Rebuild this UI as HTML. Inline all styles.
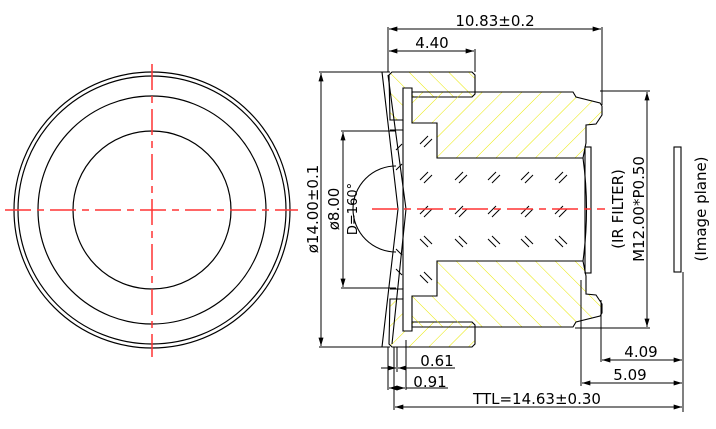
<!DOCTYPE html>
<html><head><meta charset="utf-8"><style>
html,body{margin:0;padding:0;background:#fff;width:716px;height:429px;overflow:hidden}
text{font-family:"DejaVu Sans","Liberation Sans",sans-serif;fill:#000}
</style></head><body>
<svg width="716" height="429" viewBox="0 0 716 429" xmlns="http://www.w3.org/2000/svg">
<defs>
<marker id="a" viewBox="0 0 10 6" refX="10" refY="3" markerWidth="9" markerHeight="5" orient="auto-start-reverse" markerUnits="userSpaceOnUse"><path d="M0,0 L10,3 L0,6 Z" fill="#000"/></marker>
<pattern id="h" width="14" height="14" patternUnits="userSpaceOnUse" patternTransform="rotate(45)"><line x1="0" y1="0" x2="0" y2="14" stroke="#e8e800" stroke-width="1"/></pattern>
<pattern id="h2" width="14" height="14" patternUnits="userSpaceOnUse" patternTransform="rotate(-45)"><line x1="0" y1="0" x2="0" y2="14" stroke="#e8e800" stroke-width="1"/></pattern>
</defs>
<g fill="none" stroke="#000" stroke-width="1.2">
<circle cx="152" cy="210" r="138"/><circle cx="152" cy="210" r="134"/>
<circle cx="152" cy="210" r="114"/><circle cx="152" cy="210" r="79"/>
</g>
<g stroke="#f33" stroke-width="1.5" stroke-dasharray="26,6,7,6">
<line x1="5" y1="210" x2="298" y2="210"/><line x1="152" y1="64" x2="152" y2="357"/>
</g>
<g stroke="#000" stroke-width="1.1">
<g id="top">
<path d="M389,75 L392,72 L472,72 L475,75 L475,94 L472,97 L412,97 L412,88 L403,88 L403,120 L390,120 Z" fill="url(#h2)"/>
<path d="M412,97 L412,92 L573,92 L576,97 L600,103 L602,106 L602,115 L596,124 L586,125 L586,143 L583,158 L437,158 L437,123 L412,123 Z" fill="url(#h)"/>
<path d="M403,120 L403,130 L390,130" fill="none"/>
<g stroke-width="1">
<path d="M420,144 l8,-8 M424,147 l8,-8 M455,180 l8,-8 M459,183 l8,-8 M488,180 l8,-8 M492,183 l8,-8 M521,180 l8,-8 M525,183 l8,-8 M555,180 l8,-8 M559,183 l8,-8 M420,180 l8,-8 M424,183 l8,-8 M396,150 l6,-6 M396,170 l6,-6"/>
</g>
</g>
<use href="#top" transform="translate(0,419) scale(1,-1)"/>
<g stroke-width="1">
<path d="M420,214 l8,-8 M424,217 l8,-8 M455,214 l8,-8 M459,217 l8,-8 M488,214 l8,-8 M492,217 l8,-8 M521,214 l8,-8 M525,217 l8,-8 M555,214 l8,-8 M559,217 l8,-8"/>
</g>
<path d="M403,130 L403,289" fill="none"/>
<path d="M583,158 Q590,209 583,261" fill="none"/>
<path d="M396,166 A43,43 0 0 0 396,252" fill="none"/>
<path d="M382,72 L398,209 L382,347 M388,75 L406,209 L392,344" fill="none"/>
<rect x="585" y="147" width="6" height="126" fill="none"/>
<rect x="674" y="147" width="7" height="125" fill="none"/>
</g>
<line x1="372" y1="209" x2="605" y2="209" stroke="#f33" stroke-width="1.5" stroke-dasharray="26,6,7,6"/>
<g stroke="#000" stroke-width="1" fill="none">
<line x1="388" y1="27" x2="388" y2="72"/><line x1="475" y1="49" x2="475" y2="72"/><line x1="602" y1="27" x2="602" y2="105"/>
<line x1="389" y1="29" x2="601" y2="29" marker-start="url(#a)" marker-end="url(#a)"/>
<line x1="389" y1="51" x2="474" y2="51" marker-start="url(#a)" marker-end="url(#a)"/>
<line x1="319" y1="72" x2="390" y2="72"/><line x1="319" y1="347" x2="390" y2="347"/>
<line x1="321" y1="73" x2="321" y2="346" marker-start="url(#a)" marker-end="url(#a)"/>
<line x1="341" y1="131" x2="396" y2="131"/><line x1="341" y1="288" x2="396" y2="288"/>
<line x1="343" y1="132" x2="343" y2="287" marker-start="url(#a)" marker-end="url(#a)"/>
<line x1="600" y1="91" x2="650" y2="91"/><line x1="575" y1="328" x2="650" y2="328"/>
<line x1="647" y1="92" x2="647" y2="327" marker-start="url(#a)" marker-end="url(#a)"/>
<line x1="683" y1="272" x2="683" y2="412"/>
<line x1="601" y1="300" x2="601" y2="362"/><line x1="581" y1="280" x2="581" y2="386"/>
<line x1="602" y1="360" x2="682" y2="360" marker-start="url(#a)" marker-end="url(#a)"/>
<line x1="582" y1="383" x2="682" y2="383" marker-start="url(#a)" marker-end="url(#a)"/>
<line x1="394" y1="347" x2="394" y2="410"/>
<line x1="395" y1="407" x2="682" y2="407" marker-start="url(#a)" marker-end="url(#a)"/>
<line x1="388" y1="347" x2="388" y2="390"/><line x1="397" y1="347" x2="397" y2="372"/><line x1="406" y1="340" x2="406" y2="390"/>
<line x1="381" y1="368" x2="396" y2="368" marker-end="url(#a)"/><line x1="411" y1="368" x2="398" y2="368" marker-end="url(#a)"/><line x1="411" y1="368" x2="455" y2="368"/>
<line x1="389" y1="388" x2="405" y2="388" marker-start="url(#a)" marker-end="url(#a)"/><line x1="406" y1="388" x2="448" y2="388"/>
</g>
<g font-size="15">
<text x="495" y="26" text-anchor="middle">10.83±0.2</text>
<text x="432" y="48" text-anchor="middle">4.40</text>
<text x="437" y="366" text-anchor="middle">0.61</text>
<text x="430" y="387" text-anchor="middle">0.91</text>
<text x="641" y="357" text-anchor="middle">4.09</text>
<text x="630" y="380" text-anchor="middle">5.09</text>
<text x="537" y="404" text-anchor="middle">TTL=14.63±0.30</text>
<text transform="translate(318,209) rotate(-90)" text-anchor="middle">ø14.00±0.1</text>
<text transform="translate(339,209) rotate(-90)" text-anchor="middle">ø8.00</text>
<text transform="translate(357,209) rotate(-90)" text-anchor="middle" font-size="13">D=160°</text>
<text transform="translate(623,209) rotate(-90)" text-anchor="middle">(IR FILTER)</text>
<text transform="translate(644,209) rotate(-90)" text-anchor="middle">M12.00*P0.50</text>
<text transform="translate(706,209) rotate(-90)" text-anchor="middle">(Image plane)</text>
</g>
</svg>
</body></html>
